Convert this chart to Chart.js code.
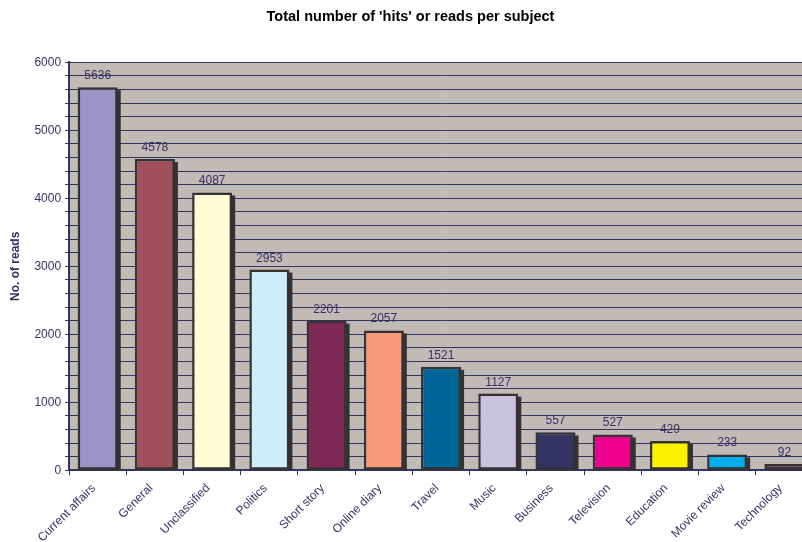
<!DOCTYPE html>
<html>
<head>
<meta charset="utf-8">
<script src="https://cdn.jsdelivr.net/npm/chart.js@4/dist/chart.umd.min.js"></script>
<style>
  html, body { margin: 0; padding: 0; overflow: hidden; background: #fff; }
  #wrap { width: 816px; height: 551px; }
</style>
</head>
<body>
<div id="wrap"><canvas id="chart" width="816" height="551"></canvas></div>
<script>
const subjects = ['Current affairs', 'General', 'Unclassified', 'Politics', 'Short story', 'Online diary',
  'Travel', 'Music', 'Business', 'Television', 'Education', 'Movie review', 'Technology'];
const reads = [5636, 4578, 4087, 2953, 2201, 2057, 1521, 1127, 557, 527, 429, 233, 92];
const barColors = ['#9C94C8', '#A24F5C', '#FFFCD6', '#CCECFA', '#7F2A55', '#F79A7A',
  '#006699', '#CAC3E0', '#333366', '#EC008C', '#FFF200', '#00AEEF', '#7F2A55'];

const navy = '#333366';
const fam = '"Liberation Sans", Arial, sans-serif';

const plotBg = {
  id: 'plotBg',
  beforeDraw(chart) {
    const { ctx, chartArea: a } = chart;
    ctx.save();
    ctx.fillStyle = '#C2BAB5';
    ctx.fillRect(a.left, a.top, a.right - a.left, a.bottom - a.top);
    ctx.restore();
  }
};

// dark drop shadow to the right of each bar
const barShadow = {
  id: 'barShadow',
  beforeDatasetsDraw(chart) {
    const ctx = chart.ctx;
    const meta = chart.getDatasetMeta(0);
    ctx.save();
    ctx.fillStyle = '#333333';
    meta.data.forEach(bar => {
      const p = bar.getProps(['x', 'y', 'width', 'base'], true);
      ctx.fillRect(p.x - p.width / 2 + 3, p.y + 3, p.width, p.base - p.y - 3);
    });
    ctx.restore();
  }
};

const valueLabels = {
  id: 'valueLabels',
  afterDatasetsDraw(chart) {
    const { ctx } = chart;
    const meta = chart.getDatasetMeta(0);
    ctx.save();
    ctx.fillStyle = navy;
    ctx.font = '12px ' + fam;
    ctx.textAlign = 'center';
    ctx.textBaseline = 'alphabetic';
    meta.data.forEach((bar, i) => {
      ctx.fillText(String(reads[i]), bar.x, bar.y - 8);
    });
    ctx.restore();
  }
};

new Chart(document.getElementById('chart'), {
  type: 'bar',
  data: {
    labels: subjects,
    datasets: [{
      data: reads,
      backgroundColor: barColors,
      borderColor: '#333333',
      borderWidth: 2.5,
      borderSkipped: false,
      barPercentage: 0.7,
      categoryPercentage: 1
    }]
  },
  options: {
    responsive: false,
    animation: false,
    layout: { padding: { left: 8, right: 3, top: 0, bottom: 0 } },
    plugins: {
      legend: { display: false },
      tooltip: { enabled: false },
      title: {
        display: true,
        text: "Total number of 'hits' or reads per subject",
        color: '#000',
        font: { family: fam, size: 14.5, weight: 'bold' },
        padding: { top: 8, bottom: 37 }
      }
    },
    scales: {
      x: {
        grid: { offset: true, drawOnChartArea: false, tickLength: 5, color: navy, lineWidth: 1 },
        border: { color: navy, width: 2 },
        ticks: {
          color: navy,
          minRotation: 45,
          maxRotation: 45,
          padding: 6,
          labelOffset: -4,
          font: { family: fam, size: 12 }
        }
      },
      y: {
        min: 0,
        max: 6000,
        grid: { color: navy, lineWidth: 1, tickLength: 4 },
        border: { color: navy, width: 2 },
        ticks: {
          stepSize: 200,
          autoSkip: false,
          color: navy,
          padding: 4,
          font: { family: fam, size: 12 },
          callback: v => (v % 1000 === 0 ? v : '')
        },
        title: {
          display: true,
          text: 'No. of reads',
          color: navy,
          font: { family: fam, size: 12, weight: 'bold' },
          padding: { top: 0, bottom: 8 }
        }
      }
    }
  },
  plugins: [plotBg, barShadow, valueLabels]
});
</script>
</body>
</html>
